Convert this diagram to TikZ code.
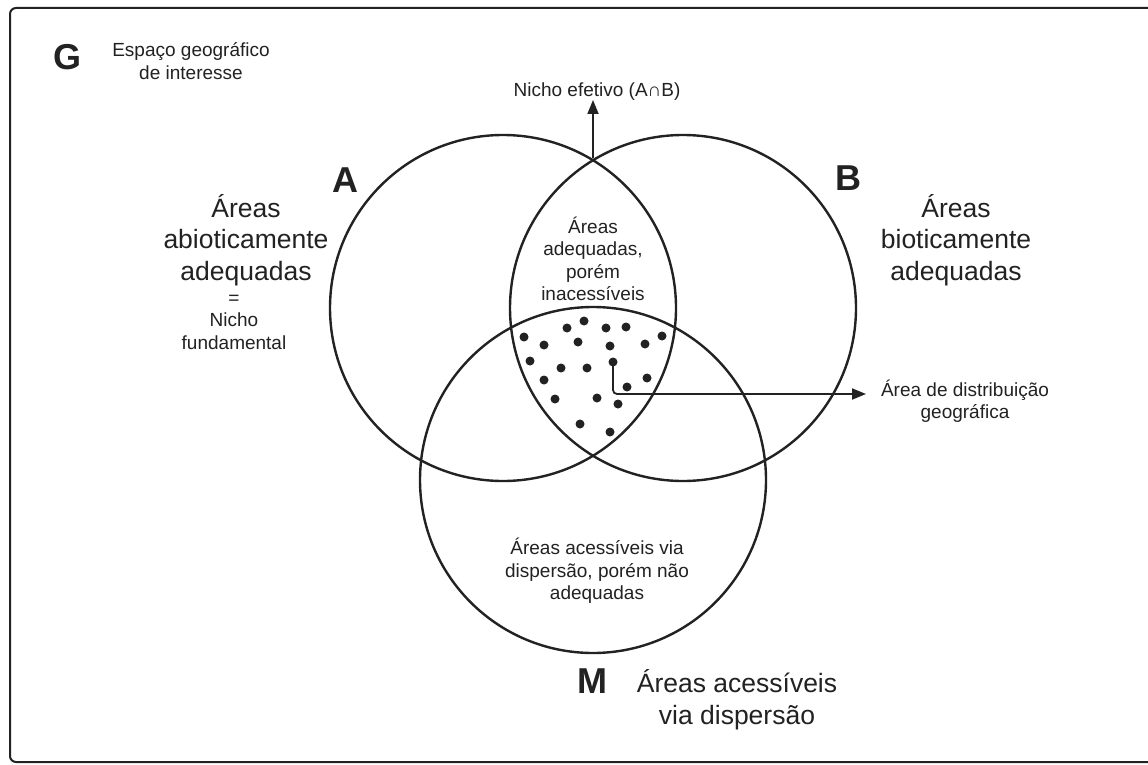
\documentclass[tikz,border=0pt]{standalone}
\usepackage{fontspec}
\setmainfont{Liberation Sans}
\usetikzlibrary{arrows.meta}
\definecolor{ink}{HTML}{222222}
\tikzset{
  small/.style={font=\fontsize{19}{22.5}\selectfont, align=center, inner sep=0pt, text=ink},
  large/.style={font=\fontsize{26.5}{31.5}\selectfont, align=center, inner sep=0pt, text=ink},
  letter/.style={font=\fontsize{36}{40}\selectfont\bfseries, inner sep=0pt, text=ink},
  setcircle/.style={line width=2.4pt, draw=ink},
  dot/.style={circle, fill=ink, inner sep=0pt, minimum size=9pt},
  arr/.style={line width=1.8pt, draw=ink, -{Triangle[length=14pt,width=11pt]}}
}
\begin{document}
\begin{tikzpicture}[x=1pt,y=-1pt]
\useasboundingbox (0,0) rectangle (1148,765);
\fill[white] (0,0) rectangle (1148,765);
% frame
\draw[line width=2pt, draw=ink, rounded corners=6pt] (10,8) rectangle (1175,762);
% circles
\draw[setcircle] (503,308) circle[radius=173];
\draw[setcircle] (683,308) circle[radius=173];
\draw[setcircle] (593,480) circle[radius=173];
% letters
\node[letter] (G) at (68,57) {G};
\node[letter] (A) at (345,180) {A};
\node[letter] (B) at (848,178) {B};
\node[letter] (M) at (592,681) {M};
% texts
\node[small] (esp) at (191,61) {Espaço geográfico\\de interesse};
\node[small] (nicho) at (597,92) {Nicho efetivo (A∩B)};
\node[large] (abio) at (246,240) {Áreas\\abioticamente\\adequadas};
\node[small] (fund) at (234,322) {=\\Nicho\\fundamental};
\node[large] (bio) at (956,240) {Áreas\\bioticamente\\adequadas};
\node[small] (inac) at (593,259) {Áreas\\adequadas,\\porém\\inacessíveis};
\node[small] (acdisp) at (597,571) {Áreas acessíveis via\\dispersão, porém não\\adequadas};
\node[large] (mtext) at (737,700) {Áreas acessíveis\\via dispersão};
\node[small] (dist) at (965,401) {Área de distribuição\\geográfica};
% dots
\foreach \p in {(584,321),(567,328),(606,328),(626,327),(524,337),(544,345),(578,342),(610,346),(645,344),(662,336),(530,361),(561,368),(587,368),(544,380),(647,378),(627,387),(555,399),(597,398),(618,404),(580,424),(610,432)}
  \node[dot] at \p {};
\node[dot] (d0) at (613,362) {};
% arrows
\coordinate (ab) at (593,158);
\coordinate (nichotip) at (593,100);
\draw[arr] (ab) -- (nichotip);
\coordinate (disttip) at (866,394);
\draw[arr, rounded corners=4pt] (d0.center) |- (disttip);
\end{tikzpicture}
\end{document}
